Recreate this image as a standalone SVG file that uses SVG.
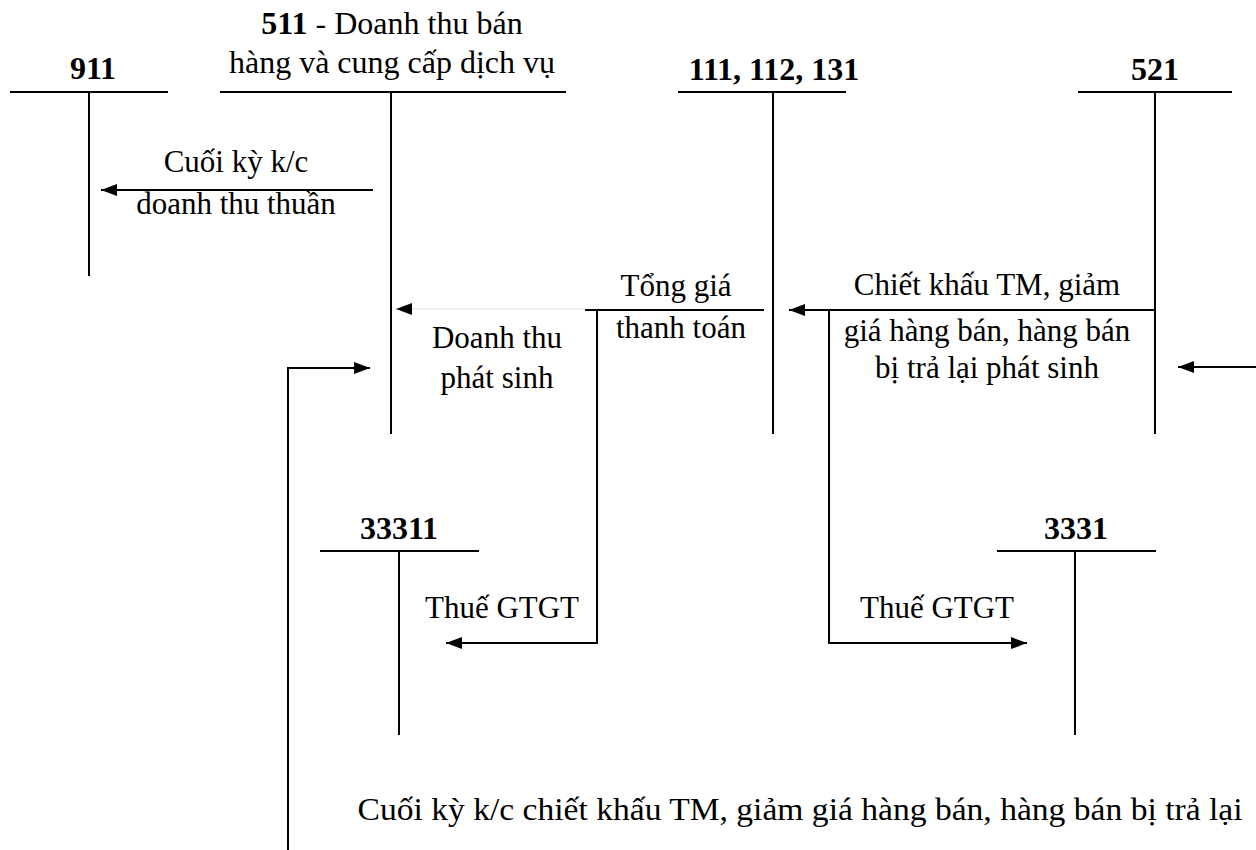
<svg xmlns="http://www.w3.org/2000/svg" width="1256" height="850" viewBox="0 0 1256 850">
  <style>
    .t { fill: none; stroke: #000; stroke-width: 2; }
    .c { fill: none; stroke: #000; stroke-width: 2; }
    .faint { fill: none; stroke: #e2e2e2; stroke-width: 1; }
    text { font-family: "Liberation Serif", "Times New Roman", serif; fill: #000; text-anchor: middle; }
    .hd { font-size: 32px; font-weight: bold; }
    .hr { font-size: 32px; }
    .lb { font-size: 31px; }
  </style>
  <defs>
    <marker id="arrow" viewBox="0 0 16 12" refX="16" refY="6" markerUnits="userSpaceOnUse" markerWidth="16" markerHeight="12" orient="auto">
      <path d="M0,0 L16,6 L0,12 z" fill="#000"/>
    </marker>
  </defs>

  <rect width="1256" height="850" fill="#fff"/>

  <!-- T-accounts -->
  <g id="acc-911">
    <text class="hd" x="93" y="79">911</text>
    <path class="t" d="M10,92 H168 M89,92 V276"/>
  </g>
  <g id="acc-511">
    <text class="hr" x="392" y="34"><tspan font-weight="bold">511</tspan> - Doanh thu bán</text>
    <text class="hr" x="392" y="73">hàng và cung cấp dịch vụ</text>
    <path class="t" d="M220,92 H566 M391,92 V434"/>
  </g>
  <g id="acc-111">
    <text class="hd" x="774" y="80">111, 112, 131</text>
    <path class="t" d="M678,92 H846 M773,92 V434"/>
  </g>
  <g id="acc-521">
    <text class="hd" x="1155" y="80">521</text>
    <path class="t" d="M1078,92 H1232 M1155,92 V434"/>
  </g>
  <g id="acc-33311">
    <text class="hd" x="399" y="539">33311</text>
    <path class="t" d="M320,551 H479 M399,551 V735"/>
  </g>
  <g id="acc-3331">
    <text class="hd" x="1076" y="539">3331</text>
    <path class="t" d="M997,551 H1156 M1075,551 V735"/>
  </g>

  <!-- Connectors -->
  <g id="connectors">
    <path class="c" d="M373,190 H101" marker-end="url(#arrow)"/>
    <path class="c" d="M764,310 H585"/>
    <path class="faint" d="M585,309 H396"/>
    <path d="M396,309 L412,303 L412,315 z" fill="#000"/>
    <path class="c" d="M597,310 V643 H446" marker-end="url(#arrow)"/>
    <path class="c" d="M1156,310 H789" marker-end="url(#arrow)"/>
    <path class="c" d="M829,310 V643 H1027" marker-end="url(#arrow)"/>
    <path class="c" d="M1256,367 H1178" marker-end="url(#arrow)"/>
    <path class="c" d="M288,850 V368 H370" marker-end="url(#arrow)"/>
  </g>

  <!-- Connector labels -->
  <g id="labels">
    <text class="lb" x="236" y="172">Cuối kỳ k/c</text>
    <text class="lb" x="236" y="214">doanh thu thuần</text>
    <text class="lb" x="676" y="296">Tổng giá</text>
    <text class="lb" x="681" y="338">thanh toán</text>
    <text class="lb" x="497" y="348">Doanh thu</text>
    <text class="lb" x="497" y="388">phát sinh</text>
    <text class="lb" x="987" y="295">Chiết khấu TM, giảm</text>
    <text class="lb" x="987" y="341">giá hàng bán, hàng bán</text>
    <text class="lb" x="987" y="378">bị trả lại phát sinh</text>
    <text class="lb" x="502" y="618">Thuế GTGT</text>
    <text class="lb" x="937" y="618">Thuế GTGT</text>
    <text class="lb" x="800" y="820" textLength="885" lengthAdjust="spacingAndGlyphs">Cuối kỳ k/c chiết khấu TM, giảm giá hàng bán, hàng bán bị trả lại</text>
  </g>
</svg>
